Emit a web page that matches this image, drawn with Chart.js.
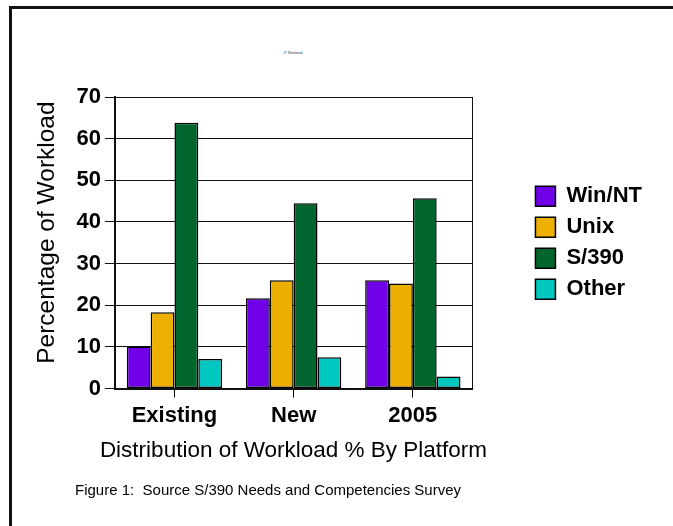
<!DOCTYPE html>
<html>
<head>
<meta charset="utf-8">
<script src="https://cdn.jsdelivr.net/npm/chart.js@4"></script>
<style>
  html, body { margin: 0; padding: 0; background: #fff; }
  #wrap { position: relative; width: 673px; height: 526px; overflow: hidden; font-family: "Liberation Sans", Arial, sans-serif; }
  #frame { position: absolute; left: 9px; top: 6px; width: 700px; height: 560px; border-left: 3px solid #111; border-top: 3px solid #111; }
  #tiny { position: absolute; left: 273px; top: 51px; width: 40px; text-align: center; font-size: 3.5px; line-height: 5px; color: #333; white-space: nowrap; }
  #xtitle { position: absolute; left: 0; width: 587px; top: 437px; text-align: center; font-size: 22.5px; line-height: 26px; color: #000; white-space: nowrap; }
  #caption { position: absolute; left: 75px; top: 482px; font-size: 15px; line-height: 15px; color: #000; white-space: pre; }
  #c { position: absolute; left: 0; top: 0; }
</style>
</head>
<body>
<div id="wrap">
  <div id="frame"></div>
  <div id="tiny">IT Workload</div>
  <canvas id="c" width="673" height="526"></canvas>
  <div id="xtitle">Distribution of Workload % By Platform</div>
  <div id="caption">Figure 1:  Source S/390 Needs and Competencies Survey</div>
</div>
<script>
const categories = ["Existing", "New", "2005"];
const seriesNames = ["Win/NT", "Unix", "S/390", "Other"];
const winNT = [10.1, 21.7, 26.0];
const unix = [18.3, 26.0, 25.2];
const s390 = [63.8, 44.5, 45.7];
const other = [7.1, 7.5, 2.9];
const yTicks = [0, 10, 20, 30, 40, 50, 60, 70];
const colors = ["#7000E8", "#EEB000", "#00662E", "#00C8C0"];
const seriesValues = [winNT, unix, s390, other];

const FONT = '"Liberation Sans", Arial, sans-serif';

const plotFrame = {
  id: 'plotFrame',
  afterDraw(chart) {
    const {ctx, chartArea: a} = chart;
    ctx.save();
    ctx.strokeStyle = '#111';
    ctx.lineWidth = 1;
    ctx.beginPath();
    ctx.moveTo(Math.round(a.right) + 0.5, a.top);
    ctx.lineTo(Math.round(a.right) + 0.5, a.bottom);
    ctx.stroke();
    ctx.restore();
  }
};

new Chart(document.getElementById('c'), {
  type: 'bar',
  data: {
    labels: categories,
    datasets: seriesNames.map((n, i) => ({
      label: n,
      data: seriesValues[i],
      backgroundColor: colors[i],
      borderColor: '#000',
      borderWidth: 1.5,
      borderSkipped: false,
      categoryPercentage: 0.8,
      barPercentage: 1.0,
      yAxisID: 'y'
    }))
  },
  plugins: [plotFrame],
  options: {
    responsive: false,
    animation: false,
    devicePixelRatio: 1,
    layout: { padding: { left: 33, top: 97, right: 21, bottom: 92 } },
    plugins: {
      tooltip: { enabled: false },
      title: { display: false },
      legend: {
        position: 'right',
        fullSize: false,
        align: 'center',
        labels: {
          boxWidth: 20,
          boxHeight: 20,
          padding: 9,
          color: '#000',
          font: { family: FONT, size: 22, weight: 'bold' }
        }
      }
    },
    scales: {
      x: {
        grid: { display: true, drawOnChartArea: false, offset: false, tickLength: 9, color: '#000', lineWidth: 1 },
        border: { display: true, color: '#111', width: 2 },
        ticks: { color: '#000', padding: 5, font: { family: FONT, size: 22, weight: 'bold' } }
      },
      y: {
        min: 0, max: 70,
        afterBuildTicks: s => { s.ticks = yTicks.map(v => ({ value: v })); },
        grid: { color: '#111', lineWidth: 1, tickLength: 10 },
        border: { display: true, color: '#111', width: 2 },
        ticks: { color: '#000', padding: 4, font: { family: FONT, size: 22, weight: 'bold' } },
        title: { display: true, text: '   Percentage of Workload', color: '#000', padding: { top: 0, bottom: 10 }, font: { family: FONT, size: 24.5 } }
      },
      y2: {
        display: false,
        position: 'right',
        min: 0, max: 70,
        afterFit: s => { s.width = 54; }
      }
    }
  }
});
</script>
</body>
</html>
